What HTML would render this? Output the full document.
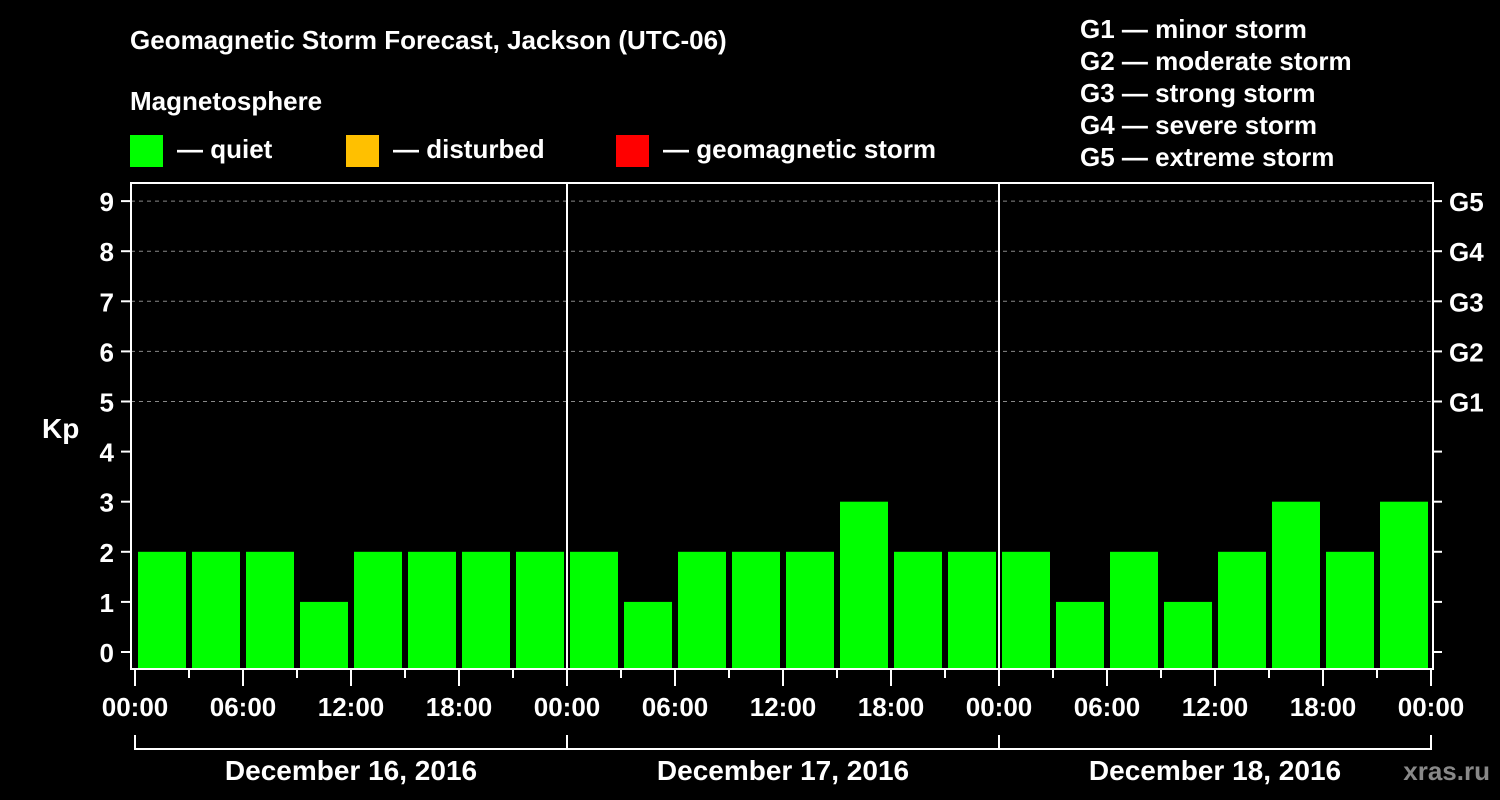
<!DOCTYPE html>
<html><head><meta charset="utf-8"><style>
html,body{margin:0;padding:0;background:#000;}
svg{display:block;font-family:"Liberation Sans",Arial,sans-serif;font-weight:bold;}
</style></head><body>
<svg id="chart" width="1500" height="800" viewBox="0 0 1500 800">
<rect x="0" y="0" width="1500" height="800" fill="#000"/>
<text x="130" y="49" fill="#fff" font-size="26">Geomagnetic Storm Forecast, Jackson (UTC-06)</text>
<text x="130" y="110" fill="#fff" font-size="26">Magnetosphere</text>
<g><rect x="130" y="135" width="33" height="32" fill="#00ff00"/><text x="177" y="158" fill="#fff" font-size="26">— quiet</text></g>
<g><rect x="346" y="135" width="33" height="32" fill="#ffc000"/><text x="393" y="158" fill="#fff" font-size="26">— disturbed</text></g>
<g><rect x="616" y="135" width="33" height="32" fill="#ff0000"/><text x="663" y="158" fill="#fff" font-size="26">— geomagnetic storm</text></g>
<g fill="#fff" font-size="26">
<text x="1080" y="38">G1 — minor storm</text>
<text x="1080" y="70">G2 — moderate storm</text>
<text x="1080" y="102">G3 — strong storm</text>
<text x="1080" y="134">G4 — severe storm</text>
<text x="1080" y="166">G5 — extreme storm</text>
</g>
<text x="42" y="438" fill="#fff" font-size="28">Kp</text>
<text x="1490" y="780" fill="#888" font-size="26" text-anchor="end">xras.ru</text>
<g id="grid"></g><g id="bars"></g><g id="axes"></g>
</svg>
<script>
const kpValues = [2,2,2,1,2,2,2,2, 2,1,2,2,2,3,2,2, 2,1,2,1,2,3,2,3];
const dayLabels = ["December 16, 2016","December 17, 2016","December 18, 2016"];
const timeLabels = ["00:00","06:00","12:00","18:00"];
const kpTicks = [0,1,2,3,4,5,6,7,8,9];
const gLabels = ["G1","G2","G3","G4","G5"];
const gLevels = [5,6,7,8,9];

const NS="http://www.w3.org/2000/svg";
const L=131,R=1433,T=183,B=669,X0=135,DAY=432;
const y=v=>652-v*50.1;
const xh=h=>X0+h*DAY/24;
function mk(tag,attrs,parent){const e=document.createElementNS(NS,tag);for(const k in attrs)e.setAttribute(k,attrs[k]);parent.appendChild(e);return e;}
const grid=document.getElementById('grid'),bars=document.getElementById('bars'),axes=document.getElementById('axes');
gLevels.forEach((v,i)=>{
  const l=mk('line',{x1:L,x2:R,y1:y(v),y2:y(v),stroke:'#888','stroke-dasharray':'4,4','stroke-width':1},grid);
  
  
  const t=mk('text',{x:1449,y:y(v)+10,fill:'#fff','font-size':26},axes);t.textContent=gLabels[i];
  
  
});
kpValues.forEach((v,i)=>{
  const x=xh(i*3);
  const r=mk('rect',{x:x+3,y:y(v),width:48,height:B-y(v),fill:'#00ff00'},bars);
  
  
});
mk('rect',{x:L,y:T,width:R-L,height:B-T,fill:'none',stroke:'#fff','stroke-width':2},axes);
for(let d=1;d<dayLabels.length;d++){mk('line',{x1:X0+d*DAY,x2:X0+d*DAY,y1:T,y2:B,stroke:'#fff','stroke-width':2},axes);}
kpTicks.forEach(v=>{
  mk('line',{x1:121,x2:L,y1:y(v),y2:y(v),stroke:'#fff','stroke-width':2},axes);
  mk('line',{x1:R,x2:1442,y1:y(v),y2:y(v),stroke:'#fff','stroke-width':2},axes);
  const t=mk('text',{x:114,y:y(v)+10,fill:'#fff','font-size':26,'text-anchor':'end'},axes);t.textContent=v;
  
  
});
for(let h=0;h<=72;h+=3){
  const major=h%6===0;
  mk('line',{x1:xh(h),x2:xh(h),y1:B,y2:major?686:678,stroke:'#fff','stroke-width':2},axes);
  if(major){const t=mk('text',{x:xh(h),y:716,fill:'#fff','font-size':26,'text-anchor':'middle'},axes);t.textContent=timeLabels[(h/6)%4];
    
    }
}
dayLabels.forEach((d,i)=>{
  const a=X0+i*DAY,b=a+DAY;
  mk('path',{d:`M${a} 735V749H${b}V735`,fill:'none',stroke:'#fff','stroke-width':2},axes);
  const t=mk('text',{x:(a+b)/2,y:780,fill:'#fff','font-size':28,'text-anchor':'middle'},axes);t.textContent=d;
  
  
});
</script>
</body></html>
